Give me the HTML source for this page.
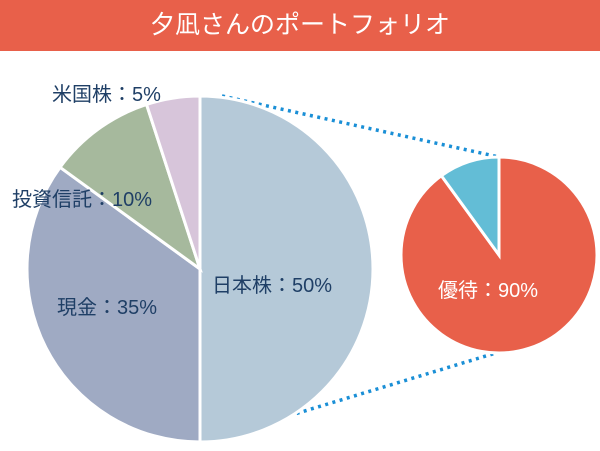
<!DOCTYPE html>
<html><head><meta charset="utf-8"><style>
body{margin:0;width:600px;height:451px;background:#fff;overflow:hidden;font-family:"Liberation Sans","Noto Sans CJK JP",sans-serif}
#hdr{position:absolute;left:0;top:0;width:600px;height:51px;background:#e8604a;color:#fff;font-size:25px;text-align:center;line-height:50px}
svg{position:absolute;left:0;top:0}
</style></head><body>
<div id="hdr">夕凪さんのポートフォリオ</div>
<svg id="c" width="600" height="451"></svg>
<script>
const mainCats=["日本株","現金","投資信託","米国株"];
const mainVals=[50,35,10,5];
const subCats=["優待","その他"];
const subVals=[90,10];
const mainColors=["#b5c9d8","#9faac3","#a6b99d","#d7c5da"];
const subColors=["#e8604a","#63bdd6"];
const NS="http://www.w3.org/2000/svg";
const svg=document.getElementById('c');
function mk(t,a){const e=document.createElementNS(NS,t);for(const k in a)e.setAttribute(k,a[k]);svg.appendChild(e);return e;}
function drawPie(vals,colors,cx,cy,r,name){
  const tot=vals.reduce((a,b)=>a+b,0);let a0=0;
  vals.forEach((v,i)=>{
    const a1=a0+v/tot*2*Math.PI;
    const x0=cx+r*Math.sin(a0),y0=cy-r*Math.cos(a0),x1=cx+r*Math.sin(a1),y1=cy-r*Math.cos(a1);
    const p=mk('path',{d:`M${cx},${cy}L${x0},${y0}A${r},${r} 0 ${a1-a0>Math.PI?1:0} 1 ${x1},${y1}Z`,fill:colors[i],stroke:'#fff','stroke-width':3});
    
    
    a0=a1;
  });
}
const l1=mk('line',{x1:222,y1:96,x2:499,y2:157,stroke:'#1a8fd6','stroke-width':3.5,'stroke-dasharray':'3 4.5'});


const l2=mk('line',{x1:275,y1:420,x2:499,y2:352,stroke:'#1a8fd6','stroke-width':3.5,'stroke-dasharray':'3 4.5'});


drawPie(mainVals,mainColors,200,269,173,'main');
drawPie(subVals,subColors,499,255,98,'sub');
const labels=[[mainCats[3]+"：",mainVals[3],52,101,'#1f3f66'],[mainCats[2]+"：",mainVals[2],12,206,'#1f3f66'],[mainCats[1]+"：",mainVals[1],57,314,'#1f3f66'],[mainCats[0]+"：",mainVals[0],212,292,'#1f3f66'],[subCats[0]+"：",subVals[0],438,297,'#fff']];
labels.forEach((l,i)=>{const t=mk('text',{x:l[2],y:l[3],fill:l[4],'font-size':20});t.textContent=l[0]+l[1]+'%';

});
</script>
</body></html>
